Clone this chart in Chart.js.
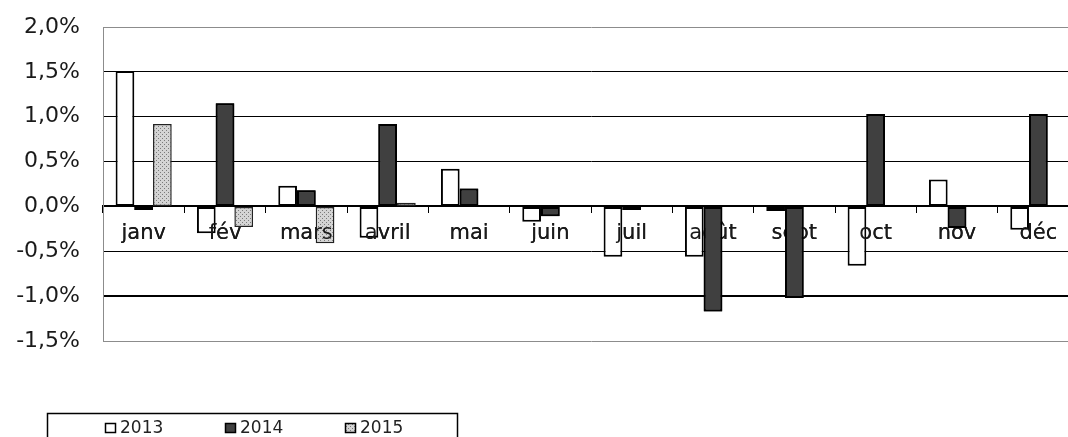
<!DOCTYPE html>
<html>
<head>
<meta charset="utf-8">
<script src="https://cdn.jsdelivr.net/npm/chart.js@4/dist/chart.umd.min.js"></script>
<style>
  html, body { margin: 0; padding: 0; overflow: hidden; background: #fff; }
  #wrap { width: 1080px; height: 437px; }
</style>
</head>
<body>
<div id="wrap"><canvas id="monthChart" width="1080" height="437"></canvas></div>
<script>
const months = ['janv', 'fév', 'mars', 'avril', 'mai', 'juin', 'juil', 'août', 'sept', 'oct', 'nov', 'déc'];
const years = ['2013', '2014', '2015'];
const v2013 = [1.51, -0.30, 0.23, -0.35, 0.42, -0.17, -0.56, -0.56, -0.05, -0.66, 0.30, -0.26];
const v2014 = [-0.04, 1.15, 0.18, 0.92, 0.20, -0.11, -0.04, -1.17, -1.02, 1.03, -0.24, 1.03];
const v2015 = [0.92, -0.23, -0.41, 0.04, null, null, null, null, null, null, null, null];
const yTicks = [-1.5, -1.0, -0.5, 0, 0.5, 1.0, 1.5, 2.0];

// dotted grey fill for 2015
function dotPattern() {
  const c = document.createElement('canvas');
  c.width = 4; c.height = 4;
  const g = c.getContext('2d');
  g.fillStyle = '#d4d4d4';
  g.fillRect(0, 0, 4, 4);
  g.fillStyle = '#7a7a7a';
  g.fillRect(0, 0, 1, 1);
  g.fillRect(2, 2, 1, 1);
  return g.createPattern(c, 'repeat');
}

const fills = ['#ffffff', '#404040', dotPattern()];
const borders = ['#000000', '#000000', '#222222'];
const fmt = v => v.toFixed(1).replace('.', ',') + '%';

// month labels sit over the white 2013 bars but under the dark 2014 ones
const labelLayer = {
  id: 'labelLayer',
  afterDatasetsDraw(chart) {
    chart.scales.x.drawLabels(chart.chartArea);
    chart.getDatasetMeta(1).controller.draw();
  }
};

// boxed legend under the plot, cut by the bottom edge
const boxLegend = {
  id: 'boxLegend',
  afterDraw(chart) {
    const ctx = chart.ctx;
    ctx.save();
    ctx.strokeStyle = '#000';
    ctx.lineWidth = 1.5;
    ctx.strokeRect(47.5, 413.5, 410, 40);
    ctx.font = '17px "DejaVu Sans"';
    ctx.textBaseline = 'middle';
    chart.data.datasets.forEach((ds, i) => {
      const x = 105 + i * 120;
      ctx.fillStyle = ds.backgroundColor;
      ctx.fillRect(x, 423, 11, 10);
      ctx.lineWidth = 1.5;
      ctx.strokeStyle = '#000';
      ctx.strokeRect(x + 0.5, 423.5, 10, 9);
      ctx.fillStyle = '#222';
      ctx.fillText(ds.label, x + 15, 429);
    });
    ctx.restore();
  }
};

const series = [v2013, v2014, v2015];

new Chart(document.getElementById('monthChart').getContext('2d'), {
  type: 'bar',
  data: {
    labels: months,
    datasets: series.map((vals, i) => ({
      label: years[i],
      data: vals,
      backgroundColor: fills[i],
      borderColor: borders[i],
      borderWidth: i === 2 ? 1.5 : 2,
      borderSkipped: false,
      barPercentage: 1,
      categoryPercentage: 0.69
    }))
  },
  options: {
    responsive: false,
    animation: false,
    layout: { padding: { top: 27, right: 1, bottom: 96, left: 0 } },
    plugins: {
      legend: { display: false },
      tooltip: { enabled: false }
    },
    scales: {
      x: {
        position: { y: 0 },
        afterFit: s => { s.paddingLeft = 0; s.paddingRight = 0; },
        grid: {
          drawOnChartArea: false,
          drawTicks: true,
          tickLength: 6,
          color: '#000',
          lineWidth: 1
        },
        border: { display: true, color: '#000', width: 2 },
        ticks: {
          padding: 9,
          color: '#1a1a1a',
          font: { family: 'DejaVu Sans', size: 21 }
        }
      },
      y: {
        min: -1.5,
        max: 2.0,
        afterFit: s => { s.width = 103; s.paddingTop = 0; s.paddingBottom = 0; },
        afterBuildTicks: s => { s.ticks = yTicks.map(v => ({ value: v })); },
        grid: {
          drawTicks: false,
          color: c => (c.tick.value === 2 || c.tick.value === -1.5) ? '#8c8c8c' : '#000',
          lineWidth: c => c.tick.value === -1 ? 2 : 1
        },
        border: { display: true, color: '#8c8c8c', width: 1 },
        ticks: {
          padding: 23,
          color: '#1a1a1a',
          font: { family: 'DejaVu Sans', size: 22 },
          callback: v => fmt(v)
        }
      }
    }
  },
  plugins: [labelLayer, boxLegend]
});
</script>
</body>
</html>
